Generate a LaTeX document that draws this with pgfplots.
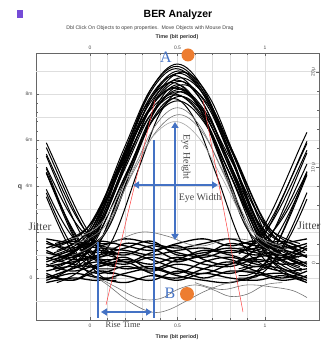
\documentclass[border=0pt]{standalone}
\usepackage{pgfplots}
\pgfplotsset{compat=1.18}
\usepackage{fontspec}
\setmainfont{Liberation Serif}
\setsansfont{Liberation Sans}
\usetikzlibrary{arrows.meta}
\definecolor{annblue}{RGB}{68,114,196}
\definecolor{annorange}{RGB}{237,125,49}
\definecolor{gridgray}{RGB}{222,222,222}
\definecolor{txtgray}{RGB}{70,70,70}
\pgfplotsset{
  trace/.style={black, line width=1.0pt, smooth, tension=0.6},
  btrace/.style={black, line width=1.3pt, smooth, tension=0.6},
  gtrace/.style={black!55, line width=0.6pt, smooth, tension=0.6},
}
\newcommand{\tr}[1]{\addplot[trace] coordinates {#1};}
\newcommand{\btr}[1]{\addplot[btrace] coordinates {#1};}
\newcommand{\gtr}[1]{\addplot[gtrace] coordinates {#1};}
\begin{document}
\begin{tikzpicture}
\begin{axis}[
  name=main,
  scale only axis, width=283bp, height=267bp,
  xmin=-0.309, xmax=1.309, ymin=-1.826, ymax=9.78,
  clip=false,
  axis line style={black!60, line width=0.6pt},
  xtick={0,0.5,1}, xticklabels={0,0.5,1}, minor x tick num=4,
  ytick={0,2,4,6,8}, yticklabels={0,,4m,6m,8m}, minor y tick num=4,
  extra y ticks={-1,1,3,5,7,9}, extra y tick labels={},
  extra y tick style={grid=major, major tick length=0pt},
  xmajorgrids=true, xminorgrids=true, ymajorgrids=true,
  grid style={gridgray, line width=0.4pt},
  minor grid style={gridgray, line width=0.4pt},
  tick style={black!60, line width=0.4pt},
  major tick length=3bp, minor tick length=2bp,
  tick pos=left,
  ticklabel style={font=\sffamily\fontsize{5}{5}\selectfont, text=black!70},
  /pgf/number format/assume math mode=true,
  xticklabel style={yshift=-1bp},
]
% low band
\btr{(-0.25,1.5)(-0.1,1.3)(0.05,1.6)(0.2,1.4)(0.35,1.2)(0.5,1.5)(0.65,1.7)(0.8,1.4)(0.95,1.6)(1.1,1.3)(1.24,1.5)}
\btr{(-0.25,1.1)(-0.1,0.9)(0.05,1.2)(0.2,1.0)(0.35,1.4)(0.5,1.1)(0.65,0.9)(0.8,1.2)(0.95,1.0)(1.1,1.2)(1.24,0.9)}
\btr{(-0.25,0.7)(-0.1,1.0)(0.05,0.8)(0.2,0.6)(0.35,0.9)(0.5,0.7)(0.65,1.0)(0.8,0.8)(0.95,0.5)(1.1,0.8)(1.24,1.0)}
\btr{(-0.25,0.3)(-0.1,0.5)(0.05,0.2)(0.2,0.5)(0.35,0.3)(0.5,0.6)(0.65,0.4)(0.8,0.2)(0.95,0.5)(1.1,0.3)(1.24,0.4)}
\btr{(-0.25,-0.1)(-0.1,0.2)(0.05,0.0)(0.2,-0.2)(0.35,0.1)(0.5,-0.1)(0.65,0.2)(0.8,0.0)(0.95,-0.1)(1.1,0.1)(1.24,-0.2)}
\btr{(-0.25,1.3)(-0.1,1.6)(0.05,1.4)(0.2,1.7)(0.35,1.5)(0.5,1.3)(0.65,1.5)(0.8,1.7)(0.95,1.4)(1.1,1.6)(1.24,1.2)}
\btr{(-0.25,0.9)(-0.1,0.6)(0.05,0.5)(0.2,0.8)(0.35,0.6)(0.5,0.9)(0.65,0.6)(0.8,0.5)(0.95,0.8)(1.1,0.6)(1.24,0.7)}
\btr{(-0.25,0.5)(-0.1,0.7)(0.05,0.9)(0.2,1.1)(0.35,0.8)(0.5,0.4)(0.65,0.2)(0.8,0.6)(0.95,0.9)(1.1,1.0)(1.24,0.6)}
\btr{(-0.25,0.1)(-0.1,-0.1)(0.05,0.3)(0.2,0.1)(0.35,-0.1)(0.5,0.3)(0.65,0.0)(0.8,0.3)(0.95,0.2)(1.1,-0.1)(1.24,0.1)}
\btr{(-0.25,1.7)(-0.1,1.5)(0.05,1.3)(0.2,1.2)(0.35,1.0)(0.5,1.2)(0.65,1.3)(0.8,1.1)(0.95,1.3)(1.1,1.5)(1.24,1.7)}
\btr{(-0.25,0.0)(-0.1,0.4)(0.05,0.7)(0.2,0.4)(0.35,0.5)(0.5,0.2)(0.65,0.7)(0.8,0.9)(0.95,0.6)(1.1,0.4)(1.24,0.0)}
\btr{(-0.25,1.2)(-0.1,0.8)(0.05,1.0)(0.2,1.3)(0.35,1.6)(0.5,1.0)(0.65,1.1)(0.8,1.3)(0.95,1.1)(1.1,0.8)(1.24,1.3)}
\btr{(-0.25,0.6)(-0.1,0.3)(0.05,0.6)(0.2,0.9)(0.35,0.4)(0.5,0.8)(0.65,1.2)(0.8,1.0)(0.95,0.7)(1.1,0.9)(1.24,0.5)}
\btr{(-0.25,-0.2)(-0.1,0.0)(0.05,-0.1)(0.2,0.2)(0.35,0.4)(0.5,0.1)(0.65,-0.1)(0.8,-0.2)(0.95,0.1)(1.1,0.2)(1.24,-0.1)}
\btr{(-0.25,0.8)(-0.1,1.2)(0.05,1.4)(0.2,0.7)(0.35,1.1)(0.5,1.4)(0.65,0.8)(0.8,0.6)(0.95,1.2)(1.1,1.4)(1.24,0.9)}
\btr{(-0.25,0.2)(-0.1,-0.1)(0.05,0.5)(0.2,0.7)(0.35,0.2)(0.5,0.0)(0.65,0.4)(0.8,0.7)(0.95,0.3)(1.1,0.0)(1.24,0.3)}
\btr{(-0.25,1.6)(-0.1,1.1)(0.05,0.9)(0.2,1.5)(0.35,1.3)(0.5,0.8)(0.65,1.0)(0.8,1.5)(0.95,1.2)(1.1,1.0)(1.24,1.4)}
% gray wandering traces
\gtr{(0.0,0.2)(0.1,-0.3)(0.2,-0.9)(0.3,-1.35)(0.38,-1.5)(0.46,-1.35)(0.55,-1.0)(0.65,-0.6)(0.75,-0.3)(0.85,-0.1)}
\gtr{(0.05,0.0)(0.15,-0.4)(0.28,-0.9)(0.4,-0.9)(0.5,-0.5)(0.6,-0.3)(0.7,-0.5)(0.8,-0.8)(0.9,-0.7)(1.0,-0.3)(1.1,-0.2)}
\gtr{(0.02,1.1)(0.15,1.6)(0.3,2.0)(0.45,1.8)(0.55,1.5)(0.65,1.4)(0.8,1.7)(0.95,1.6)(1.1,1.4)}
\gtr{(0.6,-0.2)(0.75,-0.5)(0.9,-0.3)(1.05,-0.4)(1.16,-0.55)(1.24,-0.85)}
% left falling wedge
\tr{(-0.25,5.88)(-0.2,5.03)(-0.15,4.17)(-0.1,3.33)(-0.05,2.56)(0,1.91)(0.05,1.42)(0.1,1.11)(0.15,1.0)}
\tr{(-0.25,5.30)(-0.2,4.39)(-0.15,3.49)(-0.1,2.63)(-0.05,1.87)(0,1.25)(0.05,0.81)(0.1,0.55)(0.15,0.5)}
\tr{(-0.25,5.39)(-0.2,4.55)(-0.15,3.72)(-0.1,2.96)(-0.05,2.31)(0,1.80)(0.05,1.47)(0.1,1.32)(0.15,1.3)}
\tr{(-0.25,4.57)(-0.2,3.63)(-0.15,2.72)(-0.1,1.88)(-0.05,1.18)(0,0.65)(0.05,0.32)(0.1,0.2)(0.15,0.2)}
\tr{(-0.25,4.59)(-0.2,3.71)(-0.15,2.87)(-0.1,2.13)(-0.05,1.53)(0,1.10)(0.05,0.84)(0.1,0.8)(0.15,0.8)}
\tr{(-0.25,4.82)(-0.2,4.02)(-0.15,3.26)(-0.1,2.60)(-0.05,2.08)(0,1.72)(0.05,1.51)(0.1,1.5)(0.15,1.5)}
\tr{(-0.25,3.70)(-0.2,2.82)(-0.15,2.02)(-0.1,1.35)(-0.05,0.84)(0,0.51)(0.05,0.4)(0.1,0.4)(0.15,0.4)}
\tr{(-0.25,3.85)(-0.2,3.06)(-0.15,2.36)(-0.1,1.79)(-0.05,1.39)(0,1.14)(0.05,1.1)(0.1,1.1)(0.15,1.1)}
\tr{(-0.25,4.76)(-0.2,3.80)(-0.15,2.86)(-0.1,1.97)(-0.05,1.20)(0,0.58)(0.05,0.16)(0.1,-0.08)(0.15,-0.1)}
\tr{(-0.25,3.53)(-0.2,2.63)(-0.15,1.80)(-0.1,1.09)(-0.05,0.55)(0,0.18)(0.05,0.02)(0.1,0)(0.15,0)}
\tr{(-0.25,5.67)(-0.2,4.81)(-0.15,3.94)(-0.1,3.10)(-0.05,2.35)(0,1.71)(0.05,1.26)(0.1,0.99)(0.15,0.9)}
\tr{(-0.25,4.57)(-0.2,3.69)(-0.15,2.83)(-0.1,2.07)(-0.05,1.42)(0,0.96)(0.05,0.69)(0.1,0.6)(0.15,0.6)}
% right rising wedge
\tr{(0.85,1.04)(0.9,1.30)(0.95,1.73)(1.0,2.33)(1.05,3.07)(1.1,3.91)(1.15,4.79)(1.2,5.67)(1.24,6.33)}
\tr{(0.85,0.4)(0.9,0.52)(0.95,0.85)(1.0,1.37)(1.05,2.06)(1.1,2.89)(1.15,3.79)(1.2,4.71)(1.24,5.44)}
\tr{(0.85,1.3)(0.9,1.34)(0.95,1.59)(1.0,1.99)(1.05,2.56)(1.1,3.26)(1.15,4.05)(1.2,4.88)(1.24,5.55)}
\tr{(0.85,0.1)(0.9,0.12)(0.95,0.29)(1.0,0.66)(1.05,1.22)(1.1,1.95)(1.15,2.80)(1.2,3.72)(1.24,4.47)}
\tr{(0.85,0.8)(0.9,0.8)(0.95,0.87)(1.0,1.17)(1.05,1.60)(1.1,2.25)(1.15,3.00)(1.2,3.84)(1.24,4.54)}
\tr{(0.85,1.5)(0.9,1.5)(0.95,1.51)(1.0,1.71)(1.05,2.07)(1.1,2.59)(1.15,3.24)(1.2,3.98)(1.24,4.61)}
\tr{(0.85,0.3)(0.9,0.3)(0.95,0.3)(1.0,0.41)(1.05,0.74)(1.1,1.25)(1.15,1.92)(1.2,2.72)(1.24,3.43)}
\tr{(0.85,-0.1)(0.9,-0.08)(0.95,0.16)(1.0,0.59)(1.05,1.21)(1.1,2.00)(1.15,2.90)(1.2,3.85)(1.24,4.63)}
\tr{(0.85,1.12)(0.9,1.27)(0.95,1.60)(1.0,2.11)(1.05,2.76)(1.1,3.52)(1.15,4.35)(1.2,5.19)(1.24,5.85)}
\tr{(0.85,0)(0.9,0)(0.95,0.05)(1.0,0.31)(1.05,0.75)(1.1,1.37)(1.15,2.13)(1.2,2.99)(1.24,3.71)}
\tr{(0.85,0.72)(0.9,0.94)(0.95,1.34)(1.0,1.92)(1.05,2.64)(1.1,3.48)(1.15,4.36)(1.2,5.25)(1.24,5.94)}
\tr{(0.85,1.2)(0.9,1.2)(0.95,1.31)(1.0,1.61)(1.05,2.08)(1.1,2.71)(1.15,3.46)(1.2,4.28)(1.24,4.95)}
% main pulses
\tr{(-0.2,0.8)(0,1.87)(0.2,5.56)(0.35,8.23)(0.5,9.3)(0.65,8.20)(0.8,5.47)(1.0,1.70)(1.2,0.6)}
\tr{(-0.21,0.4)(-0.01,1.50)(0.19,5.27)(0.34,8.00)(0.49,9.1)(0.64,8.08)(0.79,5.54)(0.99,2.02)(1.19,1.0)}
\tr{(-0.19,1.2)(0.01,2.17)(0.21,5.51)(0.36,7.93)(0.51,8.9)(0.66,7.82)(0.81,5.12)(1.01,1.38)(1.21,0.3)}
\tr{(-0.22,0.0)(-0.02,1.11)(0.18,4.93)(0.33,7.69)(0.48,8.8)(0.63,7.80)(0.78,5.32)(0.98,1.90)(1.18,0.9)}
\tr{(-0.18,0.9)(0.02,1.88)(0.22,5.27)(0.37,7.72)(0.52,8.7)(0.67,7.77)(0.82,5.44)(1.02,2.23)(1.22,1.3)}
\tr{(-0.2,1.4)(0,2.31)(0.2,5.43)(0.35,7.69)(0.5,8.6)(0.65,7.54)(0.8,4.90)(1.0,1.26)(1.2,0.2)}
\tr{(-0.23,0.6)(-0.03,1.60)(0.17,5.02)(0.32,7.50)(0.47,8.5)(0.62,7.43)(0.77,4.76)(0.97,1.07)(1.17,0.0)}
\tr{(-0.17,0.2)(0.03,1.23)(0.23,4.79)(0.38,7.37)(0.53,8.4)(0.68,7.48)(0.83,5.19)(1.03,2.02)(1.23,1.1)}
\tr{(-0.21,1.0)(-0.01,1.92)(0.19,5.09)(0.34,7.38)(0.49,8.3)(0.64,7.34)(0.79,4.96)(0.99,1.66)(1.19,0.7)}
\tr{(-0.19,-0.2)(0.01,0.86)(0.21,4.50)(0.36,7.14)(0.51,8.2)(0.66,7.22)(0.81,4.77)(1.01,1.38)(1.21,0.4)}
\tr{(-0.2,0.5)(0,1.46)(0.2,4.76)(0.35,7.14)(0.5,8.1)(0.65,7.27)(0.8,5.20)(1.0,2.33)(1.2,1.5)}
\tr{(-0.22,1.3)(-0.02,2.14)(0.18,5.05)(0.33,7.16)(0.48,8.0)(0.63,7.09)(0.78,4.83)(0.98,1.71)(1.18,0.8)}
\tr{(-0.18,0.7)(0.02,1.61)(0.22,4.73)(0.37,6.99)(0.52,7.9)(0.67,6.89)(0.82,4.38)(1.02,0.91)(1.22,-0.1)}
\tr{(-0.2,0.3)(0,1.23)(0.2,4.44)(0.35,6.77)(0.5,7.7)(0.65,6.79)(0.8,4.53)(1.0,1.41)(1.2,0.5)}
\tr{(-0.205,1.1)(-0.005,2.12)(0.195,5.64)(0.345,8.18)(0.495,9.2)(0.645,8.15)(0.795,5.55)(0.995,1.95)(1.195,0.9)}
\tr{(-0.195,0.3)(0.005,1.40)(0.205,5.17)(0.355,7.90)(0.505,9.0)(0.655,8.02)(0.805,5.57)(1.005,2.18)(1.205,1.2)}
\tr{(-0.185,1.0)(0.015,1.95)(0.215,5.23)(0.365,7.60)(0.515,8.55)(0.665,7.55)(0.815,5.05)(1.015,1.60)(1.215,0.6)}
\tr{(-0.215,0.7)(-0.015,1.65)(0.185,4.93)(0.335,7.30)(0.485,8.25)(0.635,7.37)(0.785,5.19)(0.985,2.18)(1.185,1.3)}
\tr{(-0.2,1.5)(0,2.31)(0.2,5.11)(0.35,7.14)(0.5,7.95)(0.65,6.96)(0.8,4.50)(1.0,1.09)(1.2,0.1)}
\tr{(-0.17,0.9)(0.03,1.91)(0.23,5.41)(0.38,7.94)(0.53,8.95)(0.68,7.89)(0.83,5.23)(1.03,1.56)(1.23,0.5)}
\tr{(-0.06,1.2)(0.1,2.11)(0.26,5.23)(0.38,7.49)(0.5,8.4)(0.62,7.49)(0.74,5.23)(0.9,2.11)(1.06,1.2)}
\tr{(-0.04,0.6)(0.12,1.55)(0.28,4.80)(0.40,7.16)(0.52,8.1)(0.64,7.21)(0.76,4.98)(0.92,1.89)(1.08,1.0)}
\tr{(-0.08,1.0)(0.08,1.86)(0.24,4.81)(0.36,6.94)(0.48,7.8)(0.60,6.87)(0.72,4.54)(0.88,1.33)(1.04,0.4)}
\gtr{(-0.1,1.0)(0.07,1.81)(0.24,4.58)(0.37,6.59)(0.5,7.4)(0.63,6.59)(0.76,4.58)(0.93,1.81)(1.1,1.0)}
\gtr{(-0.09,1.5)(0.08,2.21)(0.25,4.64)(0.38,6.39)(0.51,7.1)(0.64,6.36)(0.77,4.50)(0.94,1.94)(1.11,1.2)}
\addplot[black!35, line width=0.6pt, smooth, tension=0.6] coordinates {(-0.11,1.7)(0.06,2.34)(0.23,4.56)(0.36,6.16)(0.49,6.8)(0.62,6.12)(0.75,4.42)(0.92,2.08)(1.09,1.4)};
\end{axis}
\begin{axis}[
  scale only axis, width=283bp, height=267bp,
  xmin=-0.309, xmax=1.309, ymin=-5.97, ymax=21.99,
  axis x line*=top, axis y line*=right,
  axis line style={black!60, line width=0.6pt},
  xtick={0,0.5,1}, xticklabels={0,0.5,1}, minor x tick num=4,
  ytick={0,10,20}, yticklabels={0,10\,μ,20\,μ}, minor y tick num=4,
  tick style={black!60, line width=0.4pt},
  major tick length=3bp, minor tick length=2bp,
  ticklabel style={font=\sffamily\fontsize{5}{5}\selectfont, text=black!70},
  yticklabel style={rotate=90, anchor=south, xshift=0bp},
  /pgf/number format/assume math mode=true,
]
\addplot[draw=none] coordinates {(0,0)};
\end{axis}
\path (main.south west) ++(-36bp,320bp) coordinate (O);
% title area
\fill[blue!55!violet!70] ([shift={(17bp,-10bp)}]O) rectangle ([shift={(23bp,-18bp)}]O);
\node[font=\sffamily\bfseries\fontsize{10.5}{11}\selectfont] at ([shift={(178bp,-15bp)}]O) {BER Analyzer};
\node[font=\sffamily\fontsize{5.2}{6}\selectfont, text=black!75] at ([shift={(150bp,-28bp)}]O) {Dbl Click On Objects to open properties.\ \ Move Objects with Mouse Drag};
\node[font=\sffamily\bfseries\fontsize{5.5}{6}\selectfont, text=black!80] at ([shift={(177bp,-37bp)}]O) {Time (bit period)};
\node[font=\sffamily\bfseries\fontsize{5.5}{6}\selectfont, text=black!80] at ([shift={(177bp,-337bp)}]O) {Time (bit period)};
\node[font=\sffamily\bfseries\fontsize{7}{7}\selectfont, text=black!70] at ([shift={(20bp,-187bp)}]O) {q};
% red guide lines
\draw[red!75, line width=0.5pt] ([shift={(155bp,-100bp)}]O) -- ([shift={(106bp,-305bp)}]O);
\draw[red!75, line width=0.5pt] ([shift={(203bp,-100bp)}]O) -- ([shift={(243bp,-312bp)}]O);
% blue annotations
\begin{scope}[annblue, line width=2.2pt, >={Triangle[width=7bp,length=6bp]}]
\draw[<->] ([shift={(175bp,-122bp)}]O) -- ([shift={(175bp,-240bp)}]O);
\draw[<->] ([shift={(133bp,-185bp)}]O) -- ([shift={(218bp,-185bp)}]O);
\draw ([shift={(154bp,-140bp)}]O) -- ([shift={(154bp,-318bp)}]O);
\draw ([shift={(98bp,-242bp)}]O) -- ([shift={(98bp,-318bp)}]O);
\draw[<->] ([shift={(101bp,-312bp)}]O) -- ([shift={(152bp,-312bp)}]O);
\end{scope}
\node[rotate=-90, font=\fontsize{10}{10}\selectfont, text=txtgray] at ([shift={(186bp,-157bp)}]O) {Eye Height};
\node[font=\fontsize{10}{10}\selectfont, text=txtgray] at ([shift={(200bp,-198bp)}]O) {Eye Width};
\node[font=\fontsize{8.5}{9}\selectfont, text=txtgray] at ([shift={(123bp,-325bp)}]O) {Rise Time};
\node[font=\fontsize{11.5}{12}\selectfont, text=txtgray] at ([shift={(40bp,-227bp)}]O) {Jitter};
\node[font=\fontsize{11.5}{12}\selectfont, text=txtgray] at ([shift={(309bp,-226bp)}]O) {Jitter};
\node[font=\fontsize{16}{16}\selectfont, text=annblue] at ([shift={(166bp,-57bp)}]O) {A};
\node[font=\fontsize{16}{16}\selectfont, text=annblue] at ([shift={(170bp,-293bp)}]O) {B};
\fill[annorange] ([shift={(188bp,-55bp)}]O) circle (6.5bp);
\fill[annorange] ([shift={(187bp,-294bp)}]O) circle (7bp);
\pgfresetboundingbox
\path[use as bounding box] (O) rectangle ([shift={(335bp,-343bp)}]O);
\end{tikzpicture}
\end{document}
